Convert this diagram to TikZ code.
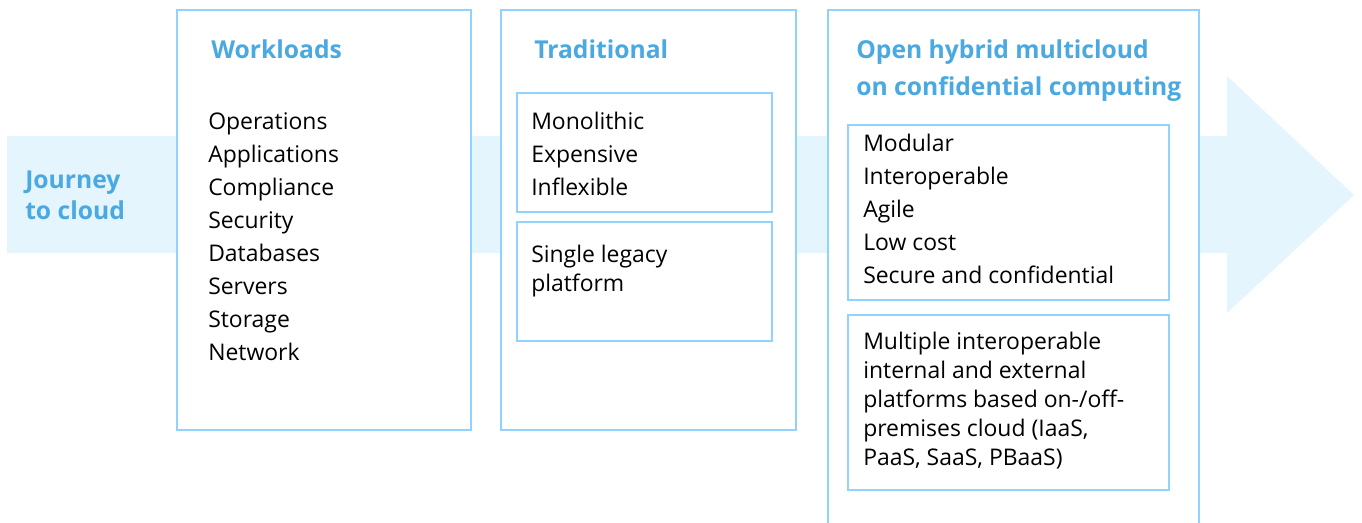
\documentclass[tikz,border=0pt]{standalone}
\usepackage{fontspec}
\setmainfont{Open Sans}
\usetikzlibrary{positioning}
\definecolor{lineblue}{HTML}{8FD3FE}
\definecolor{bandblue}{HTML}{E5F5FE}
\definecolor{headblue}{HTML}{4BA9E1}
\tikzset{
  box/.style={draw=lineblue, line width=1.6pt, fill=white},
  subbox/.style={draw=lineblue, line width=1.1pt, fill=white},
  heading/.style={anchor=west, inner sep=0pt, text=headblue, font=\fontsize{18.5}{27.75}\selectfont\bfseries, align=left},
  item/.style={anchor=north west, inner sep=0pt, font=\fontsize{17.2}{24.75}\selectfont, align=left},
}

\begin{document}
\begin{tikzpicture}[x=0.75pt, y=-0.75pt]
\useasboundingbox (0,0) rectangle (1362,522);

% Journey arrow in the background
\fill[bandblue] (7,136) -- (1227,136) -- (1227,76) -- (1354,195)
  -- (1227,313) -- (1227,253) -- (7,253) -- cycle;
\node[heading, font=\fontsize{18.5}{23.25}\selectfont\bfseries] (journey) at (25,195) {Journey\\to cloud};

% Workloads
\draw[box] (177,10) rectangle (471,430);
\node[heading] (workloads) at (211,49) {Workloads};
\node[item] (wlist) at (208,112) {Operations\\Applications\\Compliance\\Security\\Databases\\Servers\\Storage\\Network};

% Traditional
\draw[box] (501,10) rectangle (796,430);
\node[heading] (traditional) at (534,49) {Traditional};
\draw[subbox] (517,93) rectangle (772,212);
\node[item] (tprops) at (531,112) {Monolithic\\Expensive\\Inflexible};
\draw[subbox] (517,222) rectangle (772,341);
\node[item, font=\fontsize{17.2}{21.3}\selectfont] (tplat) at (531,245) {Single legacy\\platform};

% Open hybrid multicloud
\draw[box, fill=none] (828,530) -- (828,10) -- (1199,10) -- (1199,530);
\fill[white] (829,11) rectangle (1198,530);
\node[heading] (hybrid) at (856,71) {Open hybrid multicloud\\on confidential computing};
\draw[subbox] (848,125) rectangle (1169,300);
\node[item] (hprops) at (863,134) {Modular\\Interoperable\\Agile\\Low cost\\Secure and confidential};
\draw[subbox] (848,315) rectangle (1169,490);
\node[item, font=\fontsize{17.2}{21.75}\selectfont] (hplat) at (863,332) {Multiple interoperable\\internal and external\\platforms based on-/off-\\premises cloud (IaaS,\\PaaS, SaaS, PBaaS)};

\end{tikzpicture}
\end{document}
